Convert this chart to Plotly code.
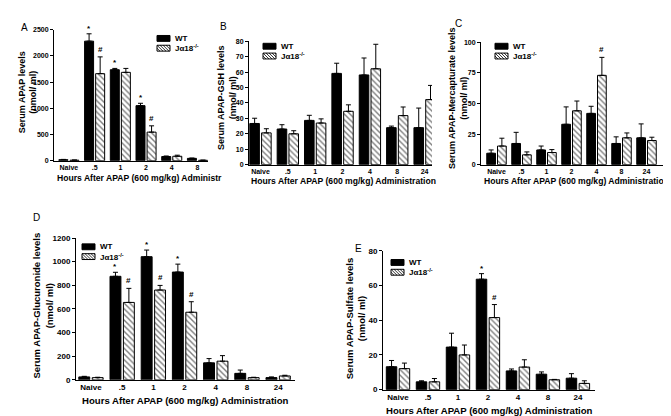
import plotly.graph_objects as go

W, H = 671, 416

# ---------------- data ----------------
cats_a = ["Naive", ".5", "1", "2", "4", "8"]
cats = ["Naive", ".5", "1", "2", "4", "8", "24"]

apap_wt = [20, 2280, 1735, 1050, 80, 45]
apap_wt_err = [5, 140, 25, 45, 10, 5]
apap_ko = [10, 1660, 1685, 545, 85, 8]
apap_ko_err = [3, 320, 75, 120, 20, 3]

gsh_wt = [26.7, 23.1, 28.7, 59.2, 58.2, 24.0, 24.0]
gsh_wt_err = [3.4, 2.8, 3.3, 6.6, 11.0, 1.0, 12.7]
gsh_ko = [20.6, 20.0, 27.0, 34.6, 62.2, 31.8, 42.2]
gsh_ko_err = [2.7, 2.0, 2.7, 4.2, 15.9, 5.6, 9.2]

merc_wt = [9.3, 17.3, 12.0, 33.0, 41.9, 17.3, 21.9]
merc_wt_err = [2.7, 9.1, 3.2, 14.2, 5.8, 5.4, 11.4]
merc_ko = [15.2, 8.0, 9.9, 44.0, 73.0, 21.9, 19.7]
merc_ko_err = [6.4, 2.4, 2.4, 8.0, 14.7, 4.0, 2.7]

gluc_wt = [25, 876, 1042, 912, 144, 55, 19]
gluc_wt_err = [5, 34, 56, 67, 36, 28, 6]
gluc_ko = [19, 655, 760, 572, 158, 19, 33]
gluc_ko_err = [3, 119, 39, 89, 47, 3, 6]

sulf_wt = [13.2, 4.5, 24.5, 63.6, 10.8, 8.9, 6.6]
sulf_wt_err = [3.6, 0.6, 8.0, 3.2, 1.1, 1.3, 2.6]
sulf_ko = [12.1, 4.5, 20.0, 41.5, 13.0, 5.7, 3.6]
sulf_ko_err = [3.2, 1.9, 5.7, 7.5, 4.2, 0.2, 1.5]

# significance markers: (category index, series, symbol)
sig_a = [(1, "wt", "*"), (2, "wt", "*"), (3, "wt", "*"), (1, "ko", "#"), (3, "ko", "#")]
sig_b = []
sig_c = [(4, "ko", "#")]
sig_d = [(1, "wt", "*"), (2, "wt", "*"), (3, "wt", "*"), (1, "ko", "#"), (2, "ko", "#"), (3, "ko", "#")]
sig_e = [(3, "wt", "*"), (3, "ko", "#")]

series_names = ["WT", "J\u03b118<sup>-/-</sup>"]
x_title = "Hours After APAP (600 mg/kg) Administration"
x_title_a = "Hours After APAP (600 mg/kg) Administr"

# ---------------- layout helpers ----------------
FONT = "Arial, Liberation Sans, sans-serif"
BAR_W = 0.35
OFF_WT = -0.39
OFF_KO = 0.04


def PX(x):
    return x / W


def PY(y):
    return 1 - y / H


panels = [
    dict(cats=cats_a, wt=apap_wt, wte=apap_wt_err, ko=apap_ko, koe=apap_ko_err, sig=sig_a,
         xd=(46, 200), yd=(152, 18), yr=(0, 2500), dt=500, xr=(-0.58, 5.41),
         letter=("A", 16, 16), yt="Serum APAP levels<br>(nmol/ ml)", ytp=(20, 82),
         xt=x_title_a, xtp=(131, 170), leg=(149, 27), fs=(7, 8.6, 9)),
    dict(cats=cats, wt=gsh_wt, wte=gsh_wt_err, ko=gsh_ko, koe=gsh_ko_err, sig=sig_b,
         xd=(241, 424), yd=(156, 30), yr=(0, 80), dt=10, xr=(-0.42, 6.27),
         letter=("B", 215, 15), yt="Serum APAP-GSH levels<br>(nmol/ ml)", ytp=(219, 88),
         xt=x_title, xtp=(335, 173), leg=(255, 35), fs=(7, 8.6, 9)),
    dict(cats=cats, wt=merc_wt, wte=merc_wt_err, ko=merc_ko, koe=merc_ko_err, sig=sig_c,
         xd=(473, 656), yd=(156, 31), yr=(0, 100), dt=25, xr=(-0.62, 6.7),
         letter=("C", 450, 12), yt="Serum APAP-Mercapturate levels<br>(nmol/ ml)", ytp=(450, 88),
         xt=x_title, xtp=(568, 173), leg=(487, 35), fs=(7, 8.6, 9)),
    dict(cats=cats, wt=gluc_wt, wte=gluc_wt_err, ko=gluc_ko, koe=gluc_ko_err, sig=sig_d,
         xd=(68, 287), yd=(376, 231), yr=(0, 1200), dt=200, xr=(-0.48, 6.54),
         letter=("D", 28, 210), yt="Serum APAP-Glucuronide levels<br>(nmol/ ml)", ytp=(35, 300),
         xt=x_title, xtp=(177, 397), leg=(74, 240), fs=(8, 9.6, 9.5)),
    dict(cats=cats, wt=sulf_wt, wte=sulf_wt_err, ko=sulf_ko, koe=sulf_ko_err, sig=sig_e,
         xd=(375, 587), yd=(386, 244), yr=(0, 80), dt=20, xr=(-0.5, 6.57),
         letter=("E", 350, 242), yt="Serum APAP-Sulfate levels<br>(nmol/ ml)", ytp=(347, 313),
         xt=x_title, xtp=(481, 407), leg=(383, 256), fs=(8, 9.6, 9.5)),
]

fig = go.Figure()
annotations = []
shapes = []
layout_axes = {}

for i, p in enumerate(panels):
    n = i + 1
    xa = "x" if n == 1 else f"x{n}"
    ya = "y" if n == 1 else f"y{n}"
    xkey = "xaxis" if n == 1 else f"xaxis{n}"
    ykey = "yaxis" if n == 1 else f"yaxis{n}"
    tick_fs, xt_fs, yt_fs = p["fs"]

    fig.add_trace(go.Bar(
        x=p["cats"], y=p["wt"], xaxis=xa, yaxis=ya, width=BAR_W, offset=OFF_WT,
        marker=dict(color="black", line=dict(color="black", width=1)),
        error_y=dict(type="data", array=p["wte"], arrayminus=[0] * len(p["wte"]),
                     symmetric=False, color="black", thickness=1, width=2.5),
        showlegend=False, name=series_names[0]))
    fig.add_trace(go.Bar(
        x=p["cats"], y=p["ko"], xaxis=xa, yaxis=ya, width=BAR_W, offset=OFF_KO,
        marker=dict(color="white", line=dict(color="black", width=1),
                    pattern=dict(shape="\\", fgcolor="black", bgcolor="white", size=4, solidity=0.35)),
        error_y=dict(type="data", array=p["koe"], arrayminus=[0] * len(p["koe"]),
                     symmetric=False, color="black", thickness=1, width=2.5),
        showlegend=False, name=series_names[1]))

    layout_axes[xkey] = dict(
        domain=[PX(p["xd"][0]), PX(p["xd"][1])], anchor=ya, type="category",
        range=list(p["xr"]), showline=True, linecolor="black", linewidth=1,
        ticks="", showgrid=False, zeroline=False, fixedrange=True,
        tickfont=dict(family=FONT, size=tick_fs, color="black", weight="bold"))
    layout_axes[ykey] = dict(
        domain=[PY(p["yd"][0]), PY(p["yd"][1])], anchor=xa, range=list(p["yr"]),
        dtick=p["dt"], tick0=0, showline=True, linecolor="black", linewidth=1,
        ticks="outside", ticklen=3, tickwidth=1, tickcolor="black",
        showgrid=False, zeroline=False, fixedrange=True,
        tickfont=dict(family=FONT, size=tick_fs, color="black", weight="bold"))

    # significance markers
    for (ci, s, sym) in p["sig"]:
        if s == "wt":
            xc = ci + OFF_WT + BAR_W / 2
            yv = p["wt"][ci] + p["wte"][ci]
        else:
            xc = ci + OFF_KO + BAR_W / 2
            yv = p["ko"][ci] + p["koe"][ci]
        annotations.append(dict(
            x=xc, y=yv, xref=xa, yref=ya, text=sym, showarrow=False,
            yanchor="bottom", yshift=(-1 if sym == "*" else 1),
            font=dict(family=FONT, size=8, color="black", weight="bold")))

    # panel letter
    L, lx, ly = p["letter"]
    annotations.append(dict(x=PX(lx), y=PY(ly), xref="paper", yref="paper", text=L,
                            showarrow=False, xanchor="center", yanchor="middle",
                            font=dict(family=FONT, size=10, color="black")))
    # y title
    annotations.append(dict(x=PX(p["ytp"][0]), y=PY(p["ytp"][1]), xref="paper", yref="paper",
                            text=p["yt"], textangle=-90, showarrow=False,
                            xanchor="center", yanchor="middle",
                            font=dict(family=FONT, size=yt_fs, color="black", weight="bold")))
    # x title
    annotations.append(dict(x=PX(p["xtp"][0]), y=PY(p["xtp"][1]), xref="paper", yref="paper",
                            text=p["xt"], showarrow=False, xanchor="center", yanchor="middle",
                            font=dict(family=FONT, size=xt_fs, color="black", weight="bold")))

    # legend (drawn)
    lx0, ly0 = p["leg"]
    rw, rh, gap = 13, 6, 10
    shapes.append(dict(type="rect", xref="paper", yref="paper",
                       x0=PX(lx0), x1=PX(lx0 + rw), y0=PY(ly0 - rh / 2), y1=PY(ly0 + rh / 2),
                       fillcolor="black", line=dict(color="black", width=1)))
    y1c = ly0 + gap
    shapes.append(dict(type="rect", xref="paper", yref="paper",
                       x0=PX(lx0), x1=PX(lx0 + rw), y0=PY(y1c - rh / 2), y1=PY(y1c + rh / 2),
                       fillcolor="white", line=dict(color="black", width=1)))
    top, bot = y1c - rh / 2, y1c + rh / 2
    k = -rh
    while k < rw:
        xa0, ya0 = lx0 + k, top
        xa1, ya1 = lx0 + k + rh, bot
        if xa0 < lx0:
            ya0 = top + (lx0 - xa0)
            xa0 = lx0
        if xa1 > lx0 + rw:
            ya1 = bot - (xa1 - (lx0 + rw))
            xa1 = lx0 + rw
        if xa1 > xa0:
            shapes.append(dict(type="line", xref="paper", yref="paper",
                               x0=PX(xa0), y0=PY(ya0), x1=PX(xa1), y1=PY(ya1),
                               line=dict(color="black", width=0.8)))
        k += 3
    for j, nm in enumerate(series_names):
        annotations.append(dict(x=PX(lx0 + rw + 3), y=PY(ly0 + j * gap), xref="paper", yref="paper",
                                text=nm, showarrow=False, xanchor="left", yanchor="middle",
                                font=dict(family=FONT, size=8, color="black", weight="bold")))

fig.update_layout(
    width=W, height=H, margin=dict(l=0, r=0, t=0, b=0),
    paper_bgcolor="white", plot_bgcolor="white", barmode="overlay",
    showlegend=False, annotations=annotations, shapes=shapes,
    font=dict(family=FONT, color="black"), **layout_axes)

fig.write_html("out.html")
